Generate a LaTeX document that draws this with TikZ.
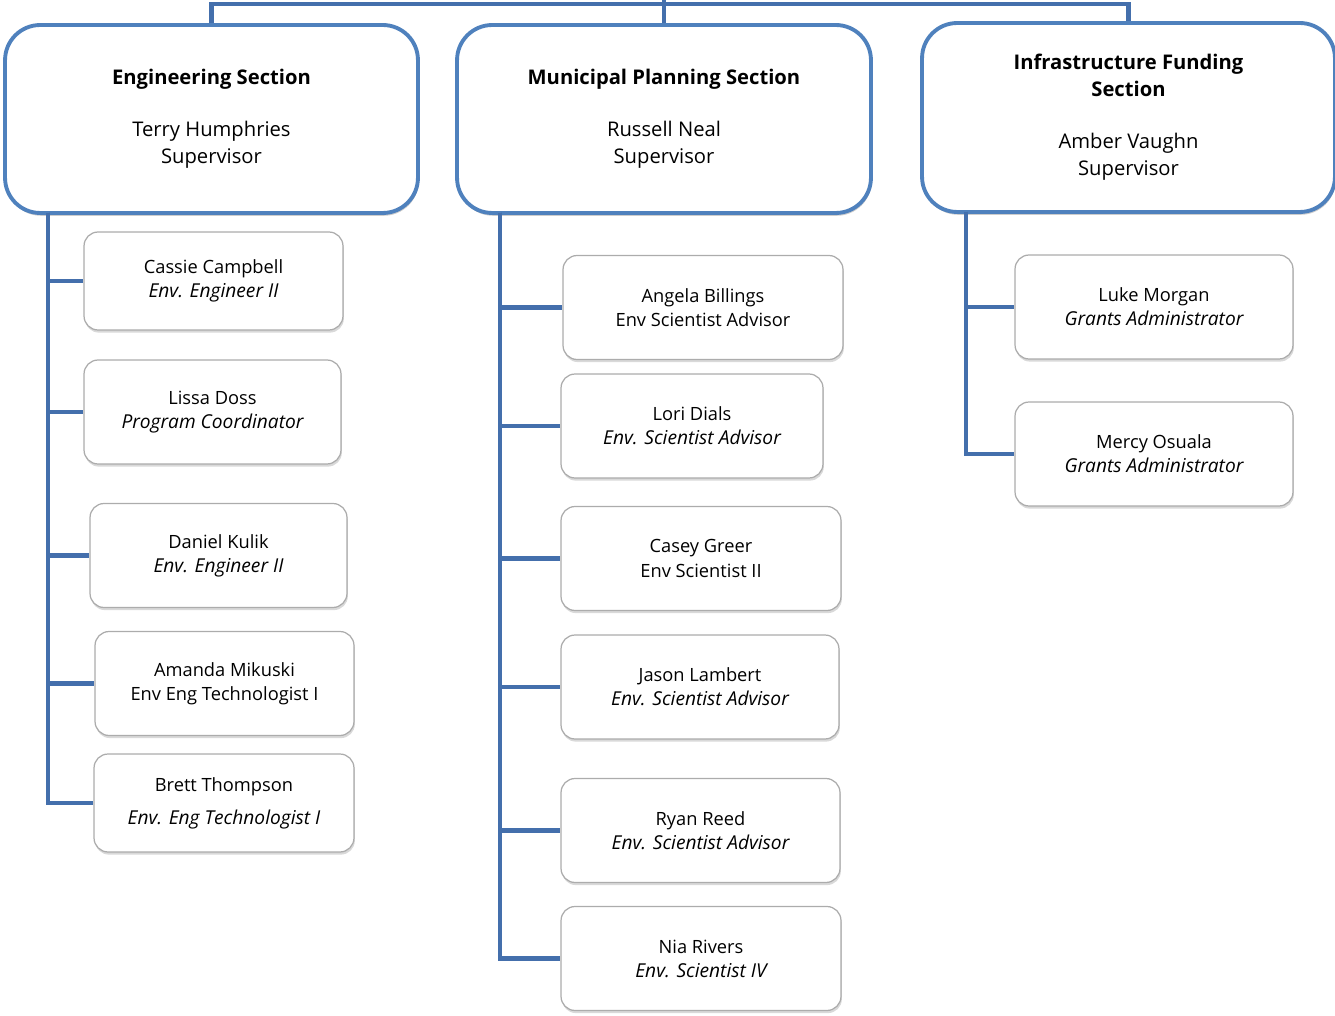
\documentclass[tikz,border=0pt]{standalone}
\usepackage{fontspec}
\setmainfont{Open Sans}
\usetikzlibrary{positioning, calc, shadows}
\definecolor{orgblue}{RGB}{79,129,189}
\definecolor{linkblue}{RGB}{68,111,172}
\newcommand{\role}[1]{{\fontsize{10.9}{13.7}\selectfont\itshape #1}}
\tikzset{
  head/.style={draw=orgblue, line width=2.2pt, fill=white, rounded corners=20pt, minimum width=8.26cm, minimum height=3.76cm, align=center, font=\fontsize{11.5}{15.4}\selectfont, drop shadow={shadow xshift=0.5pt, shadow yshift=-1.6pt, opacity=0.4}},
  staff/.style={draw=gray!65, line width=0.7pt, fill=white, rounded corners=8pt, minimum height=2.08cm, align=center, font=\fontsize{10.4}{13.7}\selectfont, drop shadow={shadow xshift=0.5pt, shadow yshift=-1.5pt, opacity=0.3}},
  link/.style={draw=linkblue, line width=2.6pt}
}
\begin{document}
\begin{tikzpicture}[x=0.02cm, y=-0.02cm]
      \useasboundingbox (0,0) rectangle (1335,1016);

      \coordinate (top) at (664,0);
      \coordinate (bus) at (664,4);
      \coordinate (engtrunk) at (48,213);
      \coordinate (muntrunk) at (500,213);
      \coordinate (inftrunk) at (966,212);

      \node[head] (eng) at (211.5,119) {\textbf{Engineering Section}\\[14.3pt]Terry Humphries\\Supervisor};
      \node[head, minimum width=8.28cm] (mun) at (664,119) {\textbf{Municipal Planning Section}\\[14.3pt]Russell Neal\\Supervisor};
      \node[head, minimum height=3.78cm] (inf) at (1128.5,117.5) {\textbf{Infrastructure Funding}\\\textbf{Section}\\[14.3pt]Amber Vaughn\\Supervisor};

      \node[staff, minimum width=5.18cm, minimum height=1.96cm] (cassie) at (213.5,281) {Cassie Campbell\\\role{Env. Engineer II}};
      \node[staff, minimum width=5.14cm] (lissa) at (212.5,412) {Lissa Doss\\\role{Program Coordinator}};
      \node[staff, minimum width=5.14cm] (daniel) at (218.5,555.5) {Daniel Kulik\\\role{Env. Engineer II}};
      \node[staff, minimum width=5.18cm] (amanda) at (224.5,683.5) {Amanda Mikuski\\Env Eng Technologist I};
      \node[staff, minimum width=5.2cm, minimum height=1.96cm] (brett) at (224,803) {Brett Thompson\\[5pt]\role{Env. Eng Technologist I}};

      \node[staff, minimum width=5.6cm] (angela) at (703,307.5) {Angela Billings\\Env Scientist Advisor};
      \node[staff, minimum width=5.24cm] (lori) at (692,426) {Lori Dials\\\role{Env. Scientist Advisor}};
      \node[staff, minimum width=5.6cm] (casey) at (701,558.5) {Casey Greer\\Env Scientist II};
      \node[staff, minimum width=5.56cm] (jason) at (700,687) {Jason Lambert\\\role{Env. Scientist Advisor}};
      \node[staff, minimum width=5.58cm] (ryan) at (700.5,830.5) {Ryan Reed\\\role{Env. Scientist Advisor}};
      \node[staff, minimum width=5.6cm] (nia) at (701,958.5) {Nia Rivers\\\role{Env. Scientist IV}};

      \node[staff, minimum width=5.56cm] (luke) at (1154,307) {Luke Morgan\\\role{Grants Administrator}};
      \node[staff, minimum width=5.56cm] (mercy) at (1154,454) {Mercy Osuala\\\role{Grants Administrator}};

      \draw[link] (eng.north) |- (bus) -| (inf.north);
      \draw[link] (mun.north) -- (top);

      \foreach \n in {cassie, lissa, daniel, amanda, brett}
        \draw[link] (engtrunk) |- (\n.west);
      \foreach \n in {angela, lori, casey, jason, ryan, nia}
        \draw[link] (muntrunk) |- (\n.west);
      \foreach \n in {luke, mercy}
        \draw[link] (inftrunk) |- (\n.west);

    \end{tikzpicture}
\end{document}
